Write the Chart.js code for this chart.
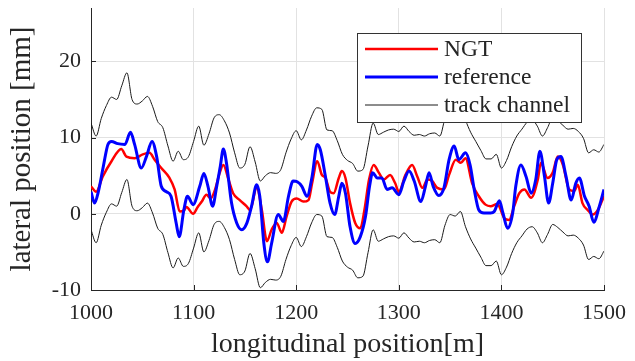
<!DOCTYPE html>
<html lang="en">
<head>
    <meta charset="UTF-8">
    <title>Lateral position</title>
    <script src="https://cdn.jsdelivr.net/npm/chart.js"></script>
    <style>
        html, body { margin: 0; padding: 0; background: #fff; }
    </style>
</head>
<body>
    <canvas id="chart" width="635" height="361"></canvas>

    <script>
        // NGT result
        const ngtPos = [1000, 1005, 1011.5, 1020, 1029.5, 1034.5, 1042.5, 1050.5, 1057, 1062, 1068.5, 1076.5, 1081.5, 1086.5, 1091, 1093, 1099.5, 1104, 1108, 1112.5, 1116.5, 1121, 1125.5, 1129, 1134, 1138.5, 1145, 1151.5, 1155, 1161.5, 1166.5, 1171.5, 1176, 1181, 1186, 1190.5, 1195.5, 1200.5, 1207, 1212, 1215.5, 1220.5, 1225, 1228.5, 1233, 1236.5, 1241.5, 1244.5, 1248, 1252.5, 1257.5, 1262.5, 1266.5, 1271, 1275.5, 1280.5, 1285.5, 1291.5, 1296.5, 1300, 1306.5, 1313, 1318, 1323, 1328, 1332.5, 1337.5, 1344, 1349, 1355.5, 1360.5, 1365, 1371.5, 1378, 1384.5, 1389.5, 1396, 1403, 1407.5, 1412.5, 1417.5, 1422.5, 1429, 1435.5, 1438.5, 1445, 1450, 1455, 1460, 1466, 1471, 1474.5, 1479, 1484, 1489, 1494, 1500];
        const ngtVal = [3.6, 2.9, 4.9, 6.9, 8.5, 7.5, 7.3, 7.8, 8.0, 7.1, 6.0, 4.7, 3.2, 0.3, 0.5, 0.9, 0.0, 0.9, 1.6, 2.5, 2.0, 3.2, 5.4, 6.4, 4.5, 2.7, 1.8, 1.0, 0.5, 3.4, 0.5, -3.6, -2.1, -1.2, -2.5, -0.4, 1.6, 2.0, 1.6, 1.8, 4.0, 6.9, 5.1, 4.7, 2.9, 2.7, 4.7, 5.6, 4.7, 1.4, -1.2, -1.9, 0.5, 4.5, 6.4, 5.4, 4.5, 5.1, 4.0, 2.9, 5.1, 6.4, 4.9, 3.4, 4.5, 4.3, 3.4, 3.2, 5.1, 7.1, 6.7, 7.3, 4.0, 2.3, 1.2, 1.0, 1.3, -0.6, -0.8, 1.0, 2.7, 3.2, 2.1, 4.5, 6.7, 4.7, 5.4, 7.5, 6.4, 3.2, 3.0, 3.8, 1.4, 0.5, -0.1, 0.5, 2.3];

        // reference
        const refPos = [1000, 1003.5, 1007, 1012, 1016.5, 1020, 1026, 1033, 1038.5, 1042.5, 1049, 1054, 1059.5, 1064, 1068.5, 1073.5, 1078, 1083, 1086, 1090.5, 1094, 1099.5, 1106, 1110, 1114, 1118.5, 1122.5, 1126, 1129, 1132, 1137, 1142, 1147, 1152, 1156.5, 1161.5, 1164.5, 1168.5, 1172, 1176, 1182.5, 1187.5, 1192.5, 1197, 1201, 1205.5, 1210.5, 1215.5, 1220.5, 1223.5, 1228.5, 1233, 1237.5, 1241.5, 1244.5, 1248, 1252.5, 1257.5, 1262.5, 1267.5, 1271.5, 1274.5, 1279, 1283.5, 1288.5, 1293.5, 1300, 1305, 1310, 1315, 1321.5, 1326, 1329.5, 1333.5, 1339, 1344, 1349, 1354, 1358.5, 1365, 1369.5, 1373.5, 1378, 1383, 1389.5, 1393, 1398, 1401.5, 1406, 1411, 1414, 1419, 1424, 1429, 1433.5, 1437.5, 1442, 1446, 1450, 1454, 1458, 1463, 1468, 1472.5, 1476, 1481, 1485.5, 1490, 1495.5, 1500];
        const refVal = [2.9, 1.4, 2.8, 6.2, 9.1, 9.5, 9.2, 9.1, 10.7, 9.1, 6.0, 7.5, 9.5, 7.5, 3.6, 2.9, 2.3, -1.2, -3.0, 0.5, 2.3, 1.2, 3.6, 5.3, 3.6, 1.0, 3.6, 6.2, 8.5, 6.7, 1.4, -1.2, -2.1, -1.2, 1.0, 3.8, 2.3, -3.9, -6.3, -3.9, -0.1, -1.0, 2.3, 4.3, 4.2, 3.6, 2.3, 4.9, 9.1, 8.4, 4.9, 1.4, -0.1, 2.3, 4.0, 2.7, -1.7, -3.9, -3.0, -0.4, 3.6, 5.4, 4.7, 4.7, 3.2, 3.4, 2.5, 4.3, 5.6, 4.3, 1.6, 3.6, 5.4, 3.6, 2.4, 3.4, 7.1, 8.9, 7.1, 8.0, 6.4, 3.2, 0.5, 0.1, 0.1, 0.3, 1.7, 0.1, -1.9, 0.1, 3.6, 6.4, 4.9, 2.7, 4.5, 8.2, 4.9, 1.4, 4.0, 7.1, 7.5, 4.9, 1.8, 4.0, 4.7, 2.3, 1.0, -1.1, 1.0, 3.2];

        // track channel edges
        const trackPos = [1000, 1005, 1010, 1015, 1020, 1025, 1030, 1035, 1040, 1045, 1050, 1055, 1060, 1065, 1070, 1075, 1080, 1085, 1090, 1095, 1100, 1105, 1110, 1115, 1120, 1125, 1130, 1135, 1140, 1145, 1150, 1155, 1160, 1165, 1170, 1175, 1180, 1185, 1190, 1195, 1200, 1205, 1210, 1215, 1220, 1225, 1230, 1235, 1240, 1245, 1250, 1255, 1260, 1265, 1270, 1275, 1280, 1285, 1290, 1295, 1300, 1305, 1310, 1315, 1320, 1325, 1330, 1335, 1340, 1345, 1350, 1355, 1360, 1365, 1370, 1375, 1380, 1385, 1390, 1395, 1400, 1405, 1410, 1415, 1420, 1425, 1430, 1435, 1440, 1445, 1450, 1455, 1460, 1465, 1470, 1475, 1480, 1485, 1490, 1495, 1500];
        const trackUpper = [11.9, 10.2, 12.5, 14.2, 15.3, 15.0, 16.8, 18.5, 15.0, 14.4, 14.8, 15.4, 14.1, 12.1, 11.3, 8.9, 6.9, 8.2, 7.1, 7.5, 9.5, 11.5, 9.0, 10.5, 12.6, 13.0, 12.2, 10.6, 8.0, 6.0, 6.5, 8.8, 6.8, 4.3, 5.0, 5.4, 5.3, 5.8, 8.0, 9.8, 10.9, 9.7, 11.0, 12.8, 13.9, 13.7, 11.0, 10.9, 9.6, 7.8, 7.0, 6.6, 5.6, 5.8, 8.9, 11.9, 10.4, 10.7, 11.0, 11.1, 10.8, 11.5, 10.8, 10.3, 10.4, 10.2, 10.5, 10.6, 10.2, 12.5, 13.9, 13.7, 14.3, 12.3, 10.7, 9.5, 8.3, 7.2, 7.2, 7.8, 6.0, 7.0, 8.8, 10.2, 11.1, 12.0, 12.3, 11.5, 10.2, 11.3, 12.6, 12.2, 11.6, 11.1, 11.2, 10.8, 9.9, 8.0, 8.4, 8.1, 9.1];
        const trackLower = [-2.1, -3.8, -1.5, 0.2, 1.3, 1.0, 2.8, 4.5, 1.0, 0.4, 0.8, 1.4, 0.1, -1.9, -2.7, -5.1, -7.1, -5.8, -6.9, -6.5, -4.5, -2.5, -5.0, -3.5, -1.4, -1.0, -1.8, -3.4, -6.0, -8.0, -7.5, -5.2, -7.2, -9.7, -9.0, -8.6, -8.7, -8.2, -6.0, -4.2, -3.1, -4.3, -3.0, -1.2, -0.1, -0.3, -3.0, -3.1, -4.4, -6.2, -7.0, -7.4, -8.4, -8.2, -5.1, -2.1, -3.6, -3.3, -3.0, -2.9, -3.2, -2.5, -3.2, -3.7, -3.6, -3.8, -3.5, -3.4, -3.8, -1.5, -0.1, -0.3, 0.3, -1.7, -3.3, -4.5, -5.7, -6.8, -6.8, -6.2, -8.0, -7.0, -5.2, -3.8, -2.9, -2.0, -1.7, -2.5, -3.8, -2.7, -1.4, -1.8, -2.4, -2.9, -2.8, -3.2, -4.1, -6.0, -5.6, -5.9, -4.9];

        const xTicks = [1000, 1100, 1200, 1300, 1400, 1500];
        const yTicks = [-10, 0, 10, 20];
        const legendLabels = ['NGT', 'reference', 'track channel'];

        const serif = "'Liberation Serif', 'DejaVu Serif', serif";
        const textColor = '#262626';

        const toPoints = (xs, ys) => xs.map((x, i) => ({ x: x, y: ys[i] }));

        // MATLAB style tick marks pointing into the plot
        const inwardTicks = {
            id: 'inwardTicks',
            afterDatasetsDraw(chart) {
                const { ctx, chartArea: a, scales: { x, y } } = chart;
                ctx.save();
                ctx.strokeStyle = textColor;
                ctx.lineWidth = 1;
                ctx.beginPath();
                xTicks.forEach(v => {
                    const px = Math.round(x.getPixelForValue(v)) + 0.5;
                    ctx.moveTo(px, a.bottom);
                    ctx.lineTo(px, a.bottom - 5);
                });
                yTicks.forEach(v => {
                    const py = Math.round(y.getPixelForValue(v)) + 0.5;
                    ctx.moveTo(a.left, py);
                    ctx.lineTo(a.left + 5, py);
                });
                ctx.stroke();
                ctx.restore();
            }
        };

        // legend box inside the plot, top right
        const boxLegend = {
            id: 'boxLegend',
            afterDraw(chart) {
                const { ctx, chartArea: a } = chart;
                const w = 224, h = 89;
                const left = a.right - 23 - w, top = a.top + 25;
                ctx.save();
                ctx.fillStyle = '#fff';
                ctx.fillRect(left, top, w, h);
                ctx.strokeStyle = '#333';
                ctx.lineWidth = 1;
                ctx.strokeRect(left + 0.5, top + 0.5, w, h);
                const sets = [chart.data.datasets[1], chart.data.datasets[0], chart.data.datasets[2]];
                ctx.font = '23.5px ' + serif;
                ctx.textBaseline = 'middle';
                legendLabels.forEach((label, i) => {
                    const ly = top + 16 + i * 28;
                    ctx.strokeStyle = sets[i].borderColor;
                    ctx.lineWidth = sets[i].borderWidth;
                    ctx.beginPath();
                    ctx.moveTo(left + 8, ly);
                    ctx.lineTo(left + 81, ly);
                    ctx.stroke();
                    ctx.fillStyle = textColor;
                    ctx.fillText(label, left + 87, ly + 1);
                });
                ctx.restore();
            }
        };

        const lineStyle = { pointRadius: 0, fill: false, cubicInterpolationMode: 'monotone' };

        new Chart(document.getElementById('chart'), {
            type: 'line',
            data: {
                datasets: [
                    { ...lineStyle, label: 'reference', data: toPoints(refPos, refVal), borderColor: '#0000ff', borderWidth: 3, order: 0 },
                    { ...lineStyle, label: 'NGT', data: toPoints(ngtPos, ngtVal), borderColor: '#ff0000', borderWidth: 2.5, order: 1 },
                    { ...lineStyle, label: 'track channel', data: toPoints(trackPos, trackUpper), borderColor: '#1a1a1a', borderWidth: 1, order: 2 },
                    { ...lineStyle, label: 'track channel lower', data: toPoints(trackPos, trackLower), borderColor: '#1a1a1a', borderWidth: 1, order: 2 }
                ]
            },
            options: {
                responsive: false,
                animation: false,
                devicePixelRatio: 1,
                layout: { padding: { top: 8, right: 31, left: 0, bottom: 0 } },
                plugins: { legend: { display: false }, tooltip: { enabled: false } },
                scales: {
                    x: {
                        type: 'linear',
                        min: 1000,
                        max: 1500,
                        afterBuildTicks: s => { s.ticks = xTicks.map(v => ({ value: v })); },
                        afterFit: s => { s.height = 71; s.paddingLeft = 0; s.paddingRight = 0; },
                        grid: { color: '#e2e2e2', drawTicks: false },
                        border: { color: textColor, width: 1 },
                        ticks: { padding: 10, color: textColor, font: { family: serif, size: 22 }, maxRotation: 0, callback: v => String(v) },
                        title: { display: true, text: 'longitudinal position[m]', color: textColor, font: { family: serif, size: 28 }, padding: 0 }
                    },
                    y: {
                        type: 'linear',
                        min: -10,
                        max: 27,
                        afterBuildTicks: s => { s.ticks = yTicks.map(v => ({ value: v })); },
                        afterFit: s => { s.width = 91; s.paddingTop = 0; s.paddingBottom = 0; },
                        grid: { color: '#e2e2e2', drawTicks: false },
                        border: { color: textColor, width: 1 },
                        ticks: { padding: 10, color: textColor, font: { family: serif, size: 22 }, callback: v => String(v) },
                        title: { display: true, text: 'lateral position [mm]', color: textColor, font: { family: serif, size: 29 }, padding: { top: 5, bottom: 0 } }
                    }
                }
            },
            plugins: [inwardTicks, boxLegend]
        });
    </script>
</body>
</html>
